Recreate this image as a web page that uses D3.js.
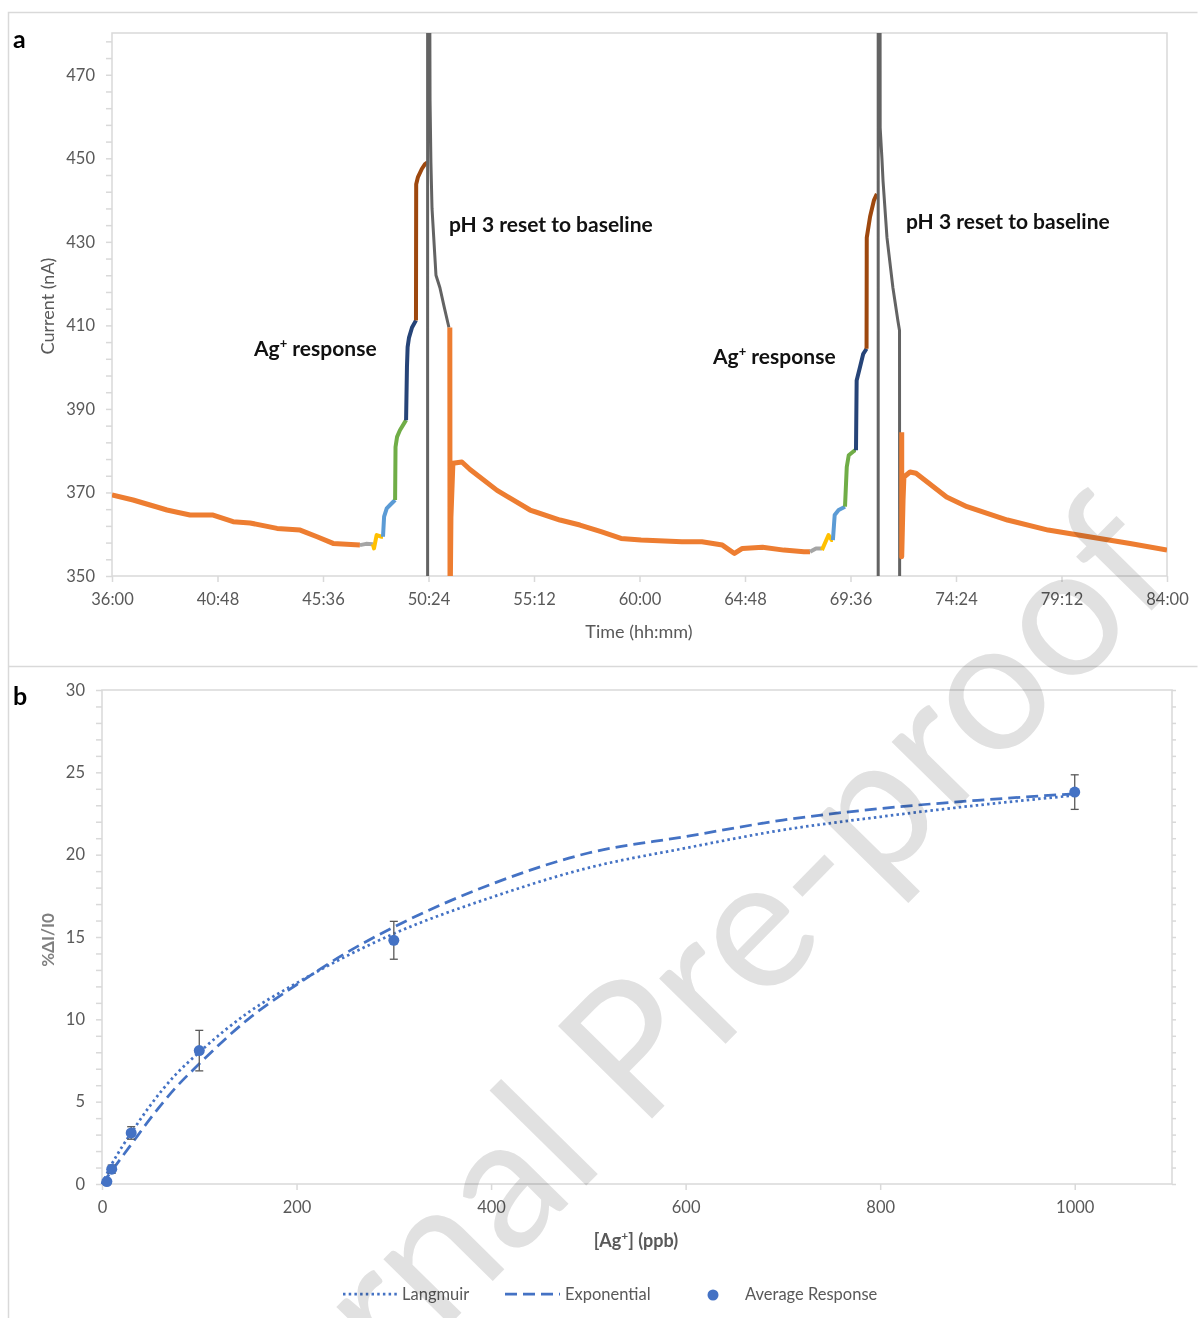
<!DOCTYPE html>
<html>
<head>
<meta charset="utf-8">
<title>Ag+ response and calibration</title>
<script src="https://d3js.org/d3.v7.min.js"></script>
<style>
  body { margin: 0; background: #fff; }
  text { font-family: Lato, "Open Sans", sans-serif; }
  .tick-label { fill: #595959; font-size: 16.5px; }
  .axis-title { fill: #595959; font-size: 18px; }
  .note { fill: #111; font-size: 21px; font-weight: bold; }
</style>
</head>
<body>
<svg id="chart" width="1198" height="1318"></svg>
<script>
// ---- panel a : current trace, [time in hours, current in nA] ----
// each run is one Excel series segment, coloured by the step it belongs to
var baselineRun1 = [[36.00,369.4],[36.96,368.2],[37.73,367.0],[38.50,365.8],[39.55,364.6],[40.60,364.6],[41.51,363.0],[42.28,362.7],[43.51,361.4],[44.56,361.0],[45.33,359.4],[46.06,357.8],[47.28,357.4]];
var step1Run1 = [[47.28,357.4],[47.56,357.7],[47.87,357.6]];
var step2Run1 = [[47.87,357.6],[47.92,356.6],[48.04,359.8],[48.27,359.4],[48.33,359.4]];
var step3Run1 = [[48.33,359.4],[48.38,364.2],[48.50,366.2],[48.65,367.0],[48.88,368.2]];
var step4Run1 = [[48.88,368.2],[48.90,380.9],[48.97,383.3],[49.10,384.9],[49.33,386.9],[49.38,387.3]];
var step5Run1 = [[49.38,387.3],[49.42,400.0],[49.45,404.8],[49.51,407.0],[49.65,409.5],[49.83,411.2]];
var step6Run1 = [[49.83,411.2],[49.84,443.8],[49.92,445.5],[50.10,447.5],[50.24,448.6],[50.35,449.0]];
var resetRun1 = [[50.36,300],[50.36,520],[50.44,520],[50.47,464],[50.51,449],[50.56,438],[50.74,422],[50.92,419],[51.11,414.5],[51.33,409.5]];
var baselineRun2 = [[51.37,409.5],[51.38,340],[51.42,364],[51.51,377.0],[51.92,377.3],[52.29,375.5],[53.52,370.5],[55.02,365.8],[56.38,363.4],[57.29,362.2],[58.25,360.6],[59.16,359.0],[60.07,358.6],[61.93,358.2],[62.84,358.2],[63.77,357.4],[64.32,355.4],[64.68,356.6],[65.60,356.9],[66.57,356.2],[67.48,355.8],[67.76,355.8]];
var step1Run2 = [[67.76,355.8],[68.03,356.6],[68.30,356.6]];
var step2Run2 = [[68.30,356.2],[68.60,359.8],[68.75,358.6],[68.80,358.6]];
var step3Run2 = [[68.80,358.6],[68.88,364.6],[69.06,365.8],[69.35,366.6]];
var step4Run2 = [[69.35,366.6],[69.43,376.1],[69.52,378.9],[69.80,380.1],[69.85,380.1]];
var step5Run2 = [[69.85,380.1],[69.88,396.8],[70.03,400.0],[70.18,403.2],[70.33,404.4]];
var step6Run2 = [[70.33,404.4],[70.34,431.0],[70.49,436.0],[70.67,440.0],[70.80,441.5]];
var resetRun2 = [[70.86,300],[70.86,520],[70.94,520],[70.95,457.3],[71.03,450.0],[71.08,444.6],[71.26,431.0],[71.53,419.0],[71.76,411.0],[71.83,408.8],[71.84,300]];
var baselineRun3 = [[71.93,384.4],[71.93,354.6],[71.99,368.0],[72.03,373.7],[72.31,374.9],[72.58,374.6],[73.97,368.9],[74.90,366.6],[76.74,363.4],[78.59,361.0],[80.45,359.4],[82.32,357.8],[84.00,356.2]];

var timeTicks = [36, 40.8, 45.6, 50.4, 55.2, 60, 64.8, 69.6, 74.4, 79.2, 84];
var currentTicks = [350, 370, 390, 410, 430, 450, 470];

// ---- panel b : calibration ----
var agConc = [5, 10, 30, 100, 300, 1000];
var avgResponse = [0.15, 0.9, 3.1, 8.1, 14.8, 23.8];
var responseErr = [0.1, 0.25, 0.38, 1.23, 1.15, 1.05];

var fitConc = [0, 10, 20, 30, 50, 75, 100, 150, 200, 250, 300, 400, 500, 600, 700, 800, 900, 1000];
var langmuirFit = [0, 1.2, 2.2, 3.1, 4.8, 6.6, 8.0, 10.4, 12.2, 13.8, 15.2, 17.4, 19.2, 20.4, 21.5, 22.3, 23.0, 23.6];
var exponentialFit = [0, 0.8, 1.6, 2.4, 4.0, 5.8, 7.3, 10.0, 12.1, 14.0, 15.6, 18.2, 20.1, 21.1, 22.1, 22.8, 23.3, 23.7];

var concTicks = [0, 200, 400, 600, 800, 1000];
var responseTicks = [0, 5, 10, 15, 20, 25, 30];

var svg = d3.select("#chart");
var frameColor = "#d9d9d9";

// outer panel frames
svg.append("path")
  .attr("d", "M8.5,1318 V12.5 H1197.5 M8.5,666.5 H1197.5")
  .attr("fill", "none")
  .attr("stroke", frameColor)
  .attr("stroke-width", 1.5);

function styleLabels(g) {
  g.select(".domain").remove();
  g.selectAll("line").attr("stroke", frameColor).attr("stroke-width", 1.5);
  g.selectAll("text").attr("class", "tick-label").attr("font-family", null).attr("font-size", null).attr("fill", null);
}

// ================= panel a =================
var xa = d3.scaleLinear().domain([36, 84]).range([112, 1167]);
var ya = d3.scaleLinear().domain([350, 480]).range([576, 33]);

function hhmm(t) {
  var m = Math.round(t * 60);
  return Math.floor(m / 60) + ":" + d3.format("02d")(m % 60);
}

var ga = svg.append("g");

ga.append("rect")
  .attr("x", 112).attr("y", 33)
  .attr("width", 1167 - 112).attr("height", 576 - 33)
  .attr("fill", "none").attr("stroke", frameColor).attr("stroke-width", 1.5);

// left axis with minor ticks every 4 nA
ga.append("g")
  .attr("transform", "translate(112,0)")
  .call(d3.axisLeft(ya).tickValues(d3.range(350, 481, 4)).tickSize(6).tickFormat(""))
  .call(styleLabels);

ga.append("g")
  .attr("transform", "translate(112,0)")
  .call(d3.axisLeft(ya).tickValues(currentTicks).tickSize(0).tickPadding(17))
  .call(styleLabels);

ga.append("g")
  .attr("transform", "translate(0,576)")
  .call(d3.axisBottom(xa).tickValues(timeTicks).tickSize(6).tickPadding(11).tickFormat(hhmm))
  .call(styleLabels);

ga.append("text")
  .attr("class", "axis-title")
  .attr("transform", "translate(54,306) rotate(-90)")
  .attr("text-anchor", "middle")
  .text("Current (nA)");

ga.append("text")
  .attr("class", "axis-title")
  .attr("x", 639).attr("y", 638)
  .attr("text-anchor", "middle")
  .text("Time (hh:mm)");

svg.append("defs").append("clipPath").attr("id", "clipA")
  .append("rect").attr("x", 112).attr("y", 33).attr("width", 1055).attr("height", 543);

var lineA = d3.line().x(function(d) { return xa(d[0]); }).y(function(d) { return ya(d[1]); });

var runs = [
  [baselineRun1, "#ed7d31", 5],
  [step1Run1, "#a5a5a5", 4],
  [step2Run1, "#ffc000", 4],
  [step3Run1, "#5b9bd5", 4],
  [step4Run1, "#70ad47", 4],
  [step5Run1, "#264478", 4],
  [step6Run1, "#9e480e", 4],
  [resetRun1, "#636363", 3],
  [baselineRun2, "#ed7d31", 5],
  [step1Run2, "#a5a5a5", 4],
  [step2Run2, "#ffc000", 4],
  [step3Run2, "#5b9bd5", 4],
  [step4Run2, "#70ad47", 4],
  [step5Run2, "#264478", 4],
  [step6Run2, "#9e480e", 4],
  [resetRun2, "#636363", 3],
  [baselineRun3, "#ed7d31", 5]
];

ga.append("g").attr("clip-path", "url(#clipA)")
  .selectAll("path")
  .data(runs)
  .enter().append("path")
  .attr("d", function(d) { return lineA(d[0]); })
  .attr("fill", "none")
  .attr("stroke", function(d) { return d[1]; })
  .attr("stroke-width", function(d) { return d[2]; })
  .attr("stroke-linejoin", "round");

// annotations
function agLabel(x, y) {
  var t = ga.append("text").attr("class", "note").attr("x", x).attr("y", y);
  t.append("tspan").text("Ag");
  t.append("tspan").attr("dy", -8).attr("font-size", 13).text("+");
  t.append("tspan").attr("dy", 8).text(" response");
}
agLabel(254, 356);
agLabel(713, 364);
ga.append("text").attr("class", "note").attr("x", 449).attr("y", 232).text("pH 3 reset to baseline");
ga.append("text").attr("class", "note").attr("x", 906).attr("y", 229).text("pH 3 reset to baseline");

svg.append("text").attr("x", 13).attr("y", 48)
  .attr("font-size", 25).attr("font-weight", "bold").attr("fill", "#000").text("a");

// ================= panel b =================
var xb = d3.scaleLinear().domain([0, 1100]).range([102, 1172]);
var yb = d3.scaleLinear().domain([0, 30]).range([1184, 690]);

var gb = svg.append("g");

gb.append("rect")
  .attr("x", 102).attr("y", 690)
  .attr("width", 1172 - 102).attr("height", 1184 - 690)
  .attr("fill", "none").attr("stroke", frameColor).attr("stroke-width", 1.5);

gb.append("g")
  .attr("transform", "translate(102,0)")
  .call(d3.axisLeft(yb).tickValues(d3.range(0, 31, 1)).tickSize(6).tickFormat(""))
  .call(styleLabels);

gb.append("g")
  .attr("transform", "translate(1172,0)")
  .call(d3.axisRight(yb).tickValues(d3.range(0, 31, 1)).tickSize(4).tickFormat(""))
  .call(styleLabels);

gb.append("g")
  .attr("transform", "translate(102,0)")
  .call(d3.axisLeft(yb).tickValues(responseTicks).tickSize(0).tickPadding(17))
  .call(styleLabels);

gb.append("g")
  .attr("transform", "translate(0,1184)")
  .call(d3.axisBottom(xb).tickValues(concTicks).tickSize(6).tickPadding(11).tickFormat(d3.format("d")))
  .call(styleLabels);

var xTitle = gb.append("text")
  .attr("class", "axis-title")
  .attr("x", 636).attr("y", 1247)
  .attr("text-anchor", "middle")
  .attr("font-weight", "bold");
xTitle.append("tspan").text("[Ag");
xTitle.append("tspan").attr("dy", -7).attr("font-size", 12).text("+");
xTitle.append("tspan").attr("dy", 7).text("] (ppb)");

gb.append("text")
  .attr("transform", "translate(54,940) rotate(-90)")
  .attr("text-anchor", "middle")
  .attr("font-family", "'Liberation Serif', serif")
  .attr("font-size", 17)
  .attr("font-weight", "bold")
  .attr("fill", "#7f7f7f")
  .text("%ΔI/I0");

var blue = "#4472c4";

var fitLine = d3.line()
  .x(function(d) { return xb(d[0]); })
  .y(function(d) { return yb(d[1]); })
  .curve(d3.curveMonotoneX);

gb.append("path")
  .attr("d", fitLine(fitConc.map(function(c, i) { return [c, langmuirFit[i]]; })))
  .attr("fill", "none").attr("stroke", blue).attr("stroke-width", 2.75)
  .attr("stroke-dasharray", "2.5 3.2");

gb.append("path")
  .attr("d", fitLine(fitConc.map(function(c, i) { return [c, exponentialFit[i]]; })))
  .attr("fill", "none").attr("stroke", blue).attr("stroke-width", 2.75)
  .attr("stroke-dasharray", "12 6");

var pts = agConc.map(function(c, i) { return { c: c, v: avgResponse[i], e: responseErr[i] }; });

var err = gb.append("g").attr("stroke", "#595959").attr("stroke-width", 1.3)
  .selectAll("g").data(pts).enter().append("g");
err.append("line")
  .attr("x1", function(d) { return xb(d.c); }).attr("x2", function(d) { return xb(d.c); })
  .attr("y1", function(d) { return yb(d.v - d.e); }).attr("y2", function(d) { return yb(d.v + d.e); });
err.append("line")
  .attr("x1", function(d) { return xb(d.c) - 4; }).attr("x2", function(d) { return xb(d.c) + 4; })
  .attr("y1", function(d) { return yb(d.v + d.e); }).attr("y2", function(d) { return yb(d.v + d.e); });
err.append("line")
  .attr("x1", function(d) { return xb(d.c) - 4; }).attr("x2", function(d) { return xb(d.c) + 4; })
  .attr("y1", function(d) { return yb(d.v - d.e); }).attr("y2", function(d) { return yb(d.v - d.e); });

gb.append("g").selectAll("circle").data(pts).enter().append("circle")
  .attr("cx", function(d) { return xb(d.c); })
  .attr("cy", function(d) { return yb(d.v); })
  .attr("r", 5.5)
  .attr("fill", blue);

// legend
var lg = gb.append("g");
lg.append("line").attr("x1", 343).attr("x2", 397).attr("y1", 1294).attr("y2", 1294)
  .attr("stroke", blue).attr("stroke-width", 2.75).attr("stroke-dasharray", "2.5 3.2");
lg.append("text").attr("class", "tick-label").attr("x", 402).attr("y", 1300).text("Langmuir");
lg.append("line").attr("x1", 505).attr("x2", 560).attr("y1", 1294).attr("y2", 1294)
  .attr("stroke", blue).attr("stroke-width", 2.75).attr("stroke-dasharray", "12 6");
lg.append("text").attr("class", "tick-label").attr("x", 565).attr("y", 1300).text("Exponential");
lg.append("circle").attr("cx", 713).attr("cy", 1295).attr("r", 5.5).attr("fill", blue);
lg.append("text").attr("class", "tick-label").attr("x", 745).attr("y", 1300).text("Average Response");

svg.append("text").attr("x", 13).attr("y", 705)
  .attr("font-size", 25).attr("font-weight", "bold").attr("fill", "#000").text("b");

// watermark
svg.append("text")
  .attr("transform", "translate(690,1080) rotate(-45.5)")
  .attr("text-anchor", "middle")
  .attr("font-family", "'Liberation Sans', Arial, sans-serif")
  .attr("font-size", 184)
  .attr("fill", "#e1e1e1")
  .style("mix-blend-mode", "multiply")
  .text("Journal Pre-proof");
</script>
</body>
</html>
